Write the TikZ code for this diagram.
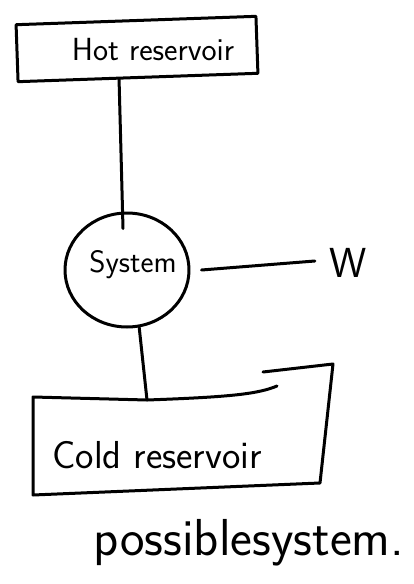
\documentclass[tikz,border=0pt]{standalone}
\usetikzlibrary{shapes.geometric}
\begin{document}
\begin{tikzpicture}[x=1pt,y=-1pt, line width=3pt, line join=round, line cap=round,
  lbl/.style={font=\sffamily\fontsize{31}{33}\selectfont, inner sep=0pt},
  box/.style={draw, rectangle, inner sep=0pt, minimum width=240pt, minimum height=57pt},
  sysnode/.style={draw, ellipse, inner sep=0pt, minimum width=124pt, minimum height=114pt}]
\useasboundingbox (0,0) rectangle (414,584);
% hot reservoir
\node[box, rotate=2] (hot) at (137,49) {};
\node[lbl, font=\sffamily\fontsize{32}{34}\selectfont] (hott) at (153,50) {Hot reservoir};
% system
\node[sysnode] (sys) at (127,270) {};
\node[lbl] (syst) at (133,265) {System};
% work
\node[lbl, font=\sffamily\fontsize{42}{44}\selectfont] (w) at (348,263) {W};
% cold reservoir
\coordinate (ctop) at (147,400);
\draw (263,372) -- (333,364) -- (320,483) -- (33,495) -- (33,397) -- (ctop)
  .. controls (230,397) and (258,394) .. (277,386);
\node[lbl, font=\sffamily\fontsize{39}{41}\selectfont] (cold) at (157,455) {Cold reservoir};
% caption
\node[lbl, font=\sffamily\fontsize{52}{54}\selectfont] (cap) at (249,543) {possiblesystem.};
% connectors
\draw ([xshift=-19pt]hot.south) -- ([xshift=-4pt,yshift=-17pt]sys.north);
\draw ([xshift=11pt]sys.east) -- ([xshift=-13pt,yshift=2pt]w.west);
\draw (sys.-78) -- (ctop);
\end{tikzpicture}
\end{document}
